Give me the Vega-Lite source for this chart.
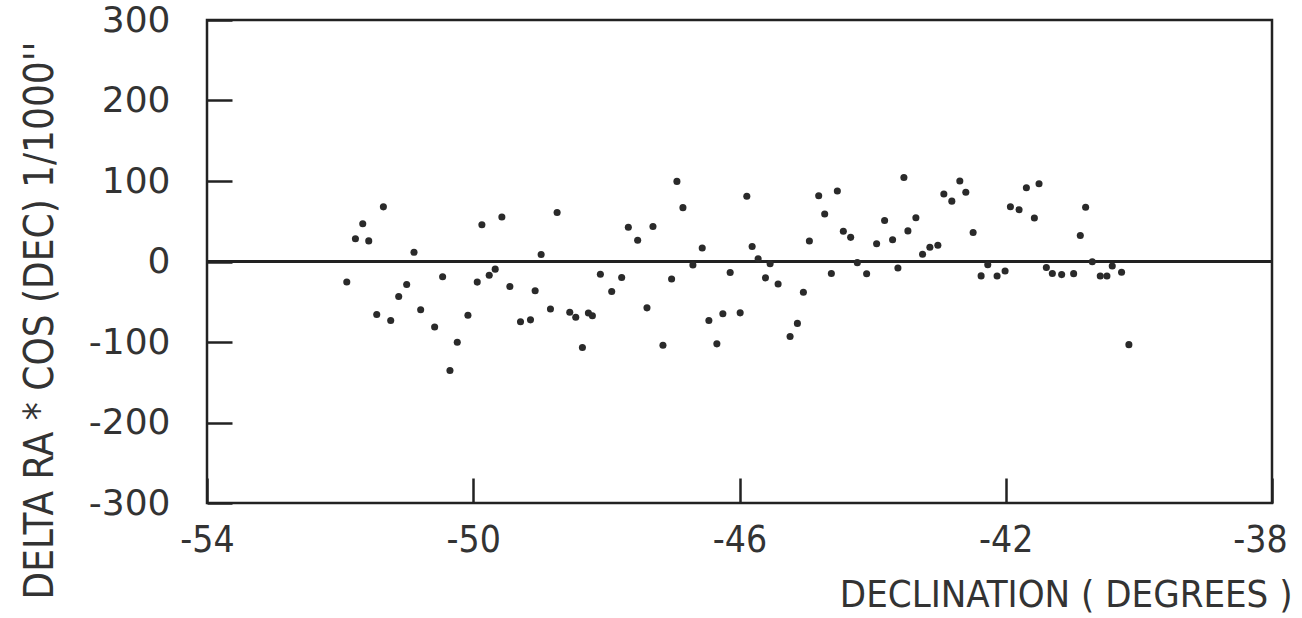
{
  "$schema": "https://vega.github.io/schema/vega-lite/v6.json",
  "width": 1065,
  "height": 483,
  "autosize": {"type": "none"},
  "padding": {"left": 207, "top": 20, "right": 30, "bottom": 115},
  "background": "white",
  "config": {
    "view": {"stroke": "#222", "strokeWidth": 2.5},
    "font": "DejaVu Sans"
  },
  "data": {
    "values": [
      {"dec": -51.90, "dra": -25.4}, {"dec": -51.77, "dra": 28.2}, {"dec": -51.66, "dra": 46.9},
      {"dec": -51.57, "dra": 25.6}, {"dec": -51.45, "dra": -65.8}, {"dec": -51.35, "dra": 67.9},
      {"dec": -51.24, "dra": -73.4}, {"dec": -51.12, "dra": -43.5}, {"dec": -51.00, "dra": -28.6},
      {"dec": -50.89, "dra": 11.4}, {"dec": -50.79, "dra": -60.0}, {"dec": -50.58, "dra": -81.4},
      {"dec": -50.46, "dra": -18.9}, {"dec": -50.35, "dra": -135.4}, {"dec": -50.24, "dra": -100.4},
      {"dec": -50.08, "dra": -66.8}, {"dec": -49.94, "dra": -25.6}, {"dec": -49.87, "dra": 45.6},
      {"dec": -49.76, "dra": -17.0}, {"dec": -49.67, "dra": -9.5}, {"dec": -49.57, "dra": 55.3},
      {"dec": -49.45, "dra": -31.0}, {"dec": -49.29, "dra": -74.9}, {"dec": -49.14, "dra": -72.5},
      {"dec": -49.07, "dra": -36.3}, {"dec": -48.98, "dra": 8.6}, {"dec": -48.84, "dra": -59.0},
      {"dec": -48.74, "dra": 60.9}, {"dec": -48.55, "dra": -63.0}, {"dec": -48.46, "dra": -69.3},
      {"dec": -48.36, "dra": -106.9}, {"dec": -48.27, "dra": -64.0}, {"dec": -48.21, "dra": -67.5},
      {"dec": -48.09, "dra": -15.9}, {"dec": -47.92, "dra": -37.3}, {"dec": -47.77, "dra": -19.9},
      {"dec": -47.67, "dra": 42.6}, {"dec": -47.53, "dra": 26.3}, {"dec": -47.39, "dra": -57.6},
      {"dec": -47.30, "dra": 43.5}, {"dec": -47.15, "dra": -104.1}, {"dec": -47.02, "dra": -21.8},
      {"dec": -46.94, "dra": 99.5}, {"dec": -46.85, "dra": 66.9}, {"dec": -46.70, "dra": -4.4},
      {"dec": -46.56, "dra": 16.8}, {"dec": -46.46, "dra": -73.4}, {"dec": -46.34, "dra": -102.3},
      {"dec": -46.25, "dra": -64.8}, {"dec": -46.14, "dra": -13.6}, {"dec": -45.99, "dra": -63.8},
      {"dec": -45.89, "dra": 81.1}, {"dec": -45.81, "dra": 18.6}, {"dec": -45.72, "dra": 3.5},
      {"dec": -45.61, "dra": -20.3}, {"dec": -45.54, "dra": -2.8}, {"dec": -45.42, "dra": -27.9},
      {"dec": -45.24, "dra": -93.1}, {"dec": -45.13, "dra": -76.9}, {"dec": -45.04, "dra": -38.3},
      {"dec": -44.95, "dra": 25.5}, {"dec": -44.81, "dra": 81.6}, {"dec": -44.72, "dra": 59.0},
      {"dec": -44.62, "dra": -14.8}, {"dec": -44.53, "dra": 87.6}, {"dec": -44.44, "dra": 37.5},
      {"dec": -44.33, "dra": 30.0}, {"dec": -44.23, "dra": -1.4}, {"dec": -44.09, "dra": -15.3},
      {"dec": -43.94, "dra": 22.1}, {"dec": -43.82, "dra": 50.9}, {"dec": -43.70, "dra": 27.0},
      {"dec": -43.62, "dra": -8.1}, {"dec": -43.53, "dra": 104.4}, {"dec": -43.47, "dra": 38.0},
      {"dec": -43.35, "dra": 54.3}, {"dec": -43.25, "dra": 9.1}, {"dec": -43.14, "dra": 17.8},
      {"dec": -43.02, "dra": 20.1}, {"dec": -42.93, "dra": 83.9}, {"dec": -42.81, "dra": 75.0},
      {"dec": -42.69, "dra": 99.9}, {"dec": -42.60, "dra": 86.1}, {"dec": -42.49, "dra": 36.0},
      {"dec": -42.37, "dra": -17.9}, {"dec": -42.27, "dra": -4.1}, {"dec": -42.13, "dra": -18.0},
      {"dec": -42.01, "dra": -11.9}, {"dec": -41.93, "dra": 68.1}, {"dec": -41.80, "dra": 64.3},
      {"dec": -41.69, "dra": 91.6}, {"dec": -41.57, "dra": 54.1}, {"dec": -41.50, "dra": 96.5},
      {"dec": -41.39, "dra": -7.4}, {"dec": -41.30, "dra": -14.9}, {"dec": -41.16, "dra": -16.3},
      {"dec": -40.98, "dra": -15.1}, {"dec": -40.88, "dra": 32.3}, {"dec": -40.80, "dra": 67.3},
      {"dec": -40.70, "dra": -0.4}, {"dec": -40.58, "dra": -18.0}, {"dec": -40.48, "dra": -18.0},
      {"dec": -40.40, "dra": -5.6}, {"dec": -40.26, "dra": -13.3}, {"dec": -40.15, "dra": -103.3}
    ]
  },
  "layer": [
    {
      "mark": {"type": "rule", "color": "#222", "strokeWidth": 2.5},
      "encoding": {"y": {"datum": 0, "type": "quantitative"}}
    },
    {
      "mark": {"type": "point", "shape": "circle", "filled": true, "color": "#2a2a2a", "size": 50, "opacity": 1},
      "encoding": {
        "x": {
          "field": "dec", "type": "quantitative",
          "scale": {"domain": [-54, -38], "nice": false, "zero": false},
          "axis": {
            "values": [-54, -50, -46, -42, -38],
            "labelExpr": "'' + datum.value",
            "title": "DECLINATION ( DEGREES )",
            "titleFont": "DejaVu Sans Condensed",
            "titleFontSize": 38,
            "titleFontWeight": "normal",
            "titleColor": "#333",
            "titleAlign": "right",
            "titleAnchor": "end",
            "titleX": 1085,
            "titleY": 92,
            "titleBaseline": "middle",
            "labelFont": "DejaVu Sans Condensed",
            "labelFontSize": 37,
            "labelColor": "#333",
            "labelPadding": 44,
            "labelFlush": false,
            "labelOffset": {"condition": {"test": "datum.value == -38", "value": -12}, "value": 0},
            "tickSize": -25,
            "tickColor": "#222",
            "tickWidth": 2.5,
            "domain": false,
            "grid": false
          }
        },
        "y": {
          "field": "dra", "type": "quantitative",
          "scale": {"domain": [-300, 300], "nice": false},
          "axis": {
            "values": [-300, -200, -100, 0, 100, 200, 300],
            "labelExpr": "'' + datum.value",
            "title": "DELTA RA * COS (DEC) 1/1000''",
            "titleFont": "DejaVu Sans Condensed",
            "titleFontSize": 40,
            "titleFontWeight": "normal",
            "titleColor": "#333",
            "titleAngle": -90,
            "titleAlign": "center",
            "titleX": -167,
            "titleY": 300,
            "titleBaseline": "middle",
            "labelFont": "DejaVu Sans",
            "labelFontSize": 36,
            "labelColor": "#333",
            "labelPadding": 62,
            "labelFlush": false,
            "tickSize": -25,
            "tickColor": "#222",
            "tickWidth": 2.5,
            "domain": false,
            "grid": false
          }
        }
      }
    }
  ]
}
